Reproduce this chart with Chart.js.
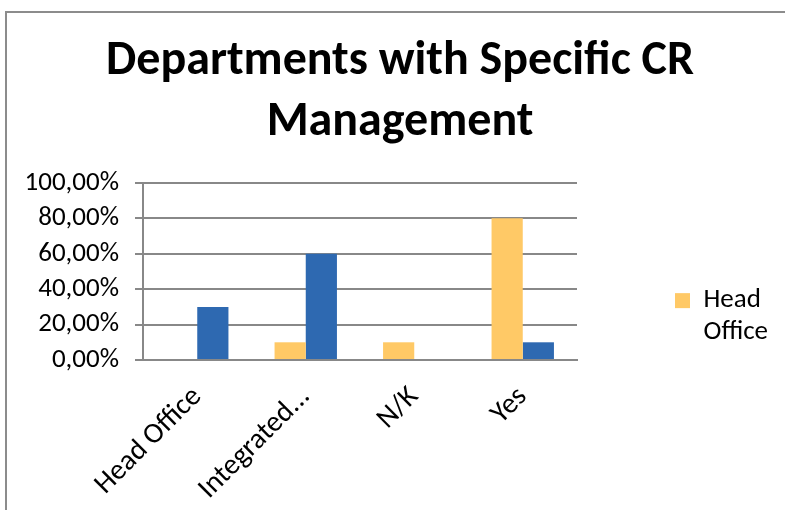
<!DOCTYPE html>
<html>
<head>
<meta charset="utf-8">
<script src="https://cdn.jsdelivr.net/npm/chart.js@4"></script>
<style>
  html, body { margin: 0; padding: 0; background: #fff; }
  #wrap { position: relative; width: 785px; height: 510px; }
  #frame { position: absolute; left: 5px; top: 11px; right: 0; bottom: 0;
           border-left: 2px solid #8c8c8c; border-top: 2px solid #8c8c8c; }
  canvas { position: absolute; left: 0; top: 0; }
</style>
</head>
<body>
<div id="wrap">
  <div id="frame"></div>
  <canvas id="chart" width="785" height="510"></canvas>
</div>
<script>
// Données du graphique
const categories = ['Head Office', 'Integrated...', 'N/K', 'Yes'];
const serieJaune = [0, 10, 10, 80];
const serieBleue = [30, 60, 0, 10];
const yTicks = [0, 20, 40, 60, 80, 100];
const legendeJaune = ['Head', 'Office'];

const police = 'Carlito, Calibri, Lato, sans-serif';
const gris = '#888888';

// espaces en fin de ligne : élargit la boîte de la légende (sinon le texte est coupé),
// la largeur réelle est ensuite bornée par maxWidth
const largeurLegende = ' '.repeat(30);

const ctx = document.getElementById('chart');

new Chart(ctx, {
    type: 'bar',
    data: {
        labels: categories,
        datasets: [
            {
                label: [legendeJaune[0], legendeJaune[1] + largeurLegende],
                data: serieJaune,
                backgroundColor: '#FFC966'
            },
            {
                label: 'Serie 2',
                data: serieBleue,
                backgroundColor: '#2E69B1'
            }
        ]
    },
    options: {
        responsive: false,
        animation: false,
        datasets: {
            bar: { barPercentage: 1, categoryPercentage: 0.575 }
        },
        layout: { padding: { left: 15, right: 0, top: 32, bottom: 0 } },
        plugins: {
            title: {
                display: true,
                text: ['Departments with Specific CR', 'Management'],
                color: '#000',
                font: { family: police, size: 48, weight: 'bold', lineHeight: 1.26 },
                padding: { top: 0, bottom: 30 }
            },
            legend: {
                position: 'right',
                maxWidth: 208,
                // titre vide pour descendre la légende comme dans Excel
                title: {
                    display: true,
                    text: ' ',
                    font: { size: 10, lineHeight: 1.2 },
                    padding: { top: 42, bottom: 42 }
                },
                labels: {
                    color: '#000',
                    font: { family: police, size: 27, lineHeight: 1.18 },
                    boxWidth: 15,
                    boxHeight: 15,
                    padding: 98,
                    filter: function(item) {
                        return item.datasetIndex === 0;
                    }
                }
            },
            tooltip: { enabled: false }
        },
        scales: {
            x: {
                grid: { display: false },
                border: { color: gris, width: 2 },
                ticks: {
                    color: '#000',
                    font: { family: police, size: 29 },
                    maxRotation: 45,
                    minRotation: 45,
                    autoSkip: false,
                    padding: 12
                },
                afterFit: function(scale) {
                    scale.height = 150;
                }
            },
            y: {
                min: 0,
                max: 100,
                afterBuildTicks: function(scale) {
                    scale.ticks = yTicks.map(v => ({ value: v }));
                },
                grid: { color: gris, lineWidth: 2, tickLength: 8 },
                border: { color: gris, width: 2 },
                ticks: {
                    color: '#000',
                    font: { family: police, size: 27 },
                    padding: 16,
                    autoSkip: false,
                    callback: function(value) {
                        return value.toFixed(2).replace('.', ',') + '%';
                    }
                },
                afterFit: function(scale) {
                    scale.width = 128;
                }
            }
        }
    }
});
</script>
</body>
</html>
